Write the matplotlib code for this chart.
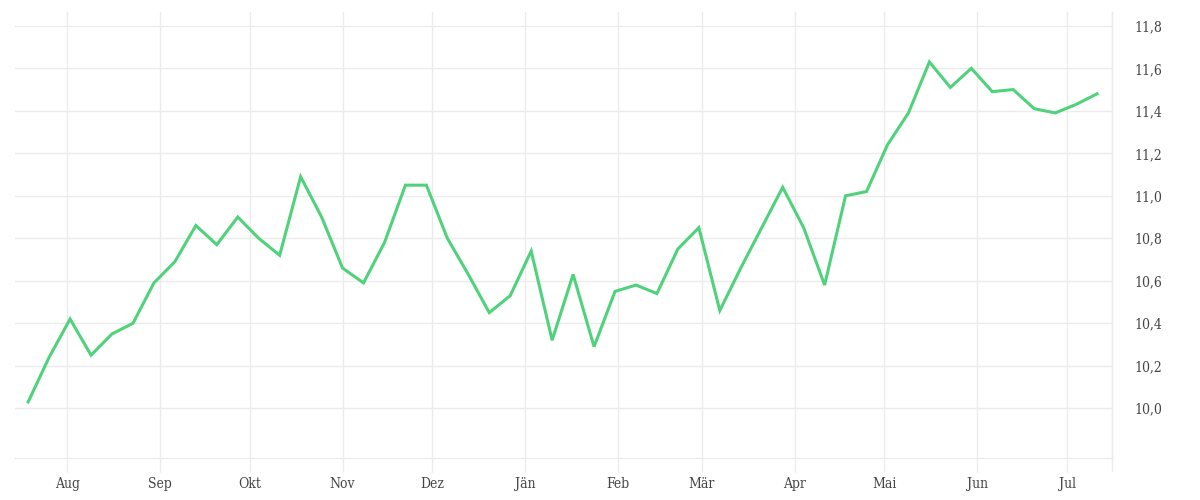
import numpy as np
import matplotlib
matplotlib.use('Agg')
import matplotlib.pyplot as plt
import matplotlib.dates as mdates
from matplotlib.ticker import FuncFormatter

# weekly values
start = np.datetime64('2022-07-19')
values = [10.03, 10.24, 10.42, 10.25, 10.35, 10.40, 10.59, 10.69, 10.86, 10.77,
          10.90, 10.80, 10.72, 11.09, 10.90, 10.66, 10.59, 10.78, 11.05, 11.05,
          10.80, 10.63, 10.45, 10.53, 10.74, 10.32, 10.63, 10.29, 10.55, 10.58,
          10.54, 10.75, 10.85, 10.46, 10.66, 10.85, 11.04, 10.85, 10.58, 11.00,
          11.02, 11.24, 11.39, 11.63, 11.51, 11.60, 11.49, 11.50, 11.41, 11.39,
          11.43, 11.48]
dates = (start + np.arange(len(values)) * 7).astype('datetime64[D]').astype(object)

month_names = ['Jän', 'Feb', 'Mär', 'Apr', 'Mai', 'Jun',
               'Jul', 'Aug', 'Sep', 'Okt', 'Nov', 'Dez']
y_ticks = [10.0, 10.2, 10.4, 10.6, 10.8, 11.0, 11.2, 11.4, 11.6, 11.8]

plt.rcParams['font.family'] = ['DejaVu Serif']
plt.rcParams['font.stretch'] = 'condensed'
grid_col = '#ebebeb'
text_col = '#444444'

fig = plt.figure(figsize=(12, 5), dpi=100)
ax = fig.add_axes([0.0125, 0.084, 0.9142, 0.892])

ax.plot(dates, values, color='#4fd27b', lw=2.2, solid_joinstyle='miter')

ax.set_xlim(mdates.date2num(dates[0]) - 4.4, mdates.date2num(dates[-1]) + 5)
ax.set_ylim(9.766, 11.865)

ax.xaxis.set_major_locator(mdates.MonthLocator())
ax.xaxis.set_major_formatter(FuncFormatter(
    lambda x, pos: month_names[mdates.num2date(x).month - 1]))
ax.set_yticks(y_ticks)
ax.yaxis.set_major_formatter(FuncFormatter(lambda v, pos: f'{v:.1f}'.replace('.', ',')))
ax.yaxis.tick_right()

ax.grid(True, color=grid_col, lw=1)
ax.set_axisbelow(True)
for s in ['top', 'left']:
    ax.spines[s].set_visible(False)
for s in ['bottom', 'right']:
    ax.spines[s].set_color(grid_col)
    ax.spines[s].set_linewidth(1)

ax.tick_params(axis='x', length=10, width=1, color=grid_col, pad=4,
               labelsize=10, labelcolor=text_col)
ax.tick_params(axis='y', length=0, pad=16, labelsize=10, labelcolor=text_col)
ax.plot([1, 1], [-0.03, 1], transform=ax.transAxes, color=grid_col, lw=1, clip_on=False)

fig.savefig('out.png', dpi=100)
